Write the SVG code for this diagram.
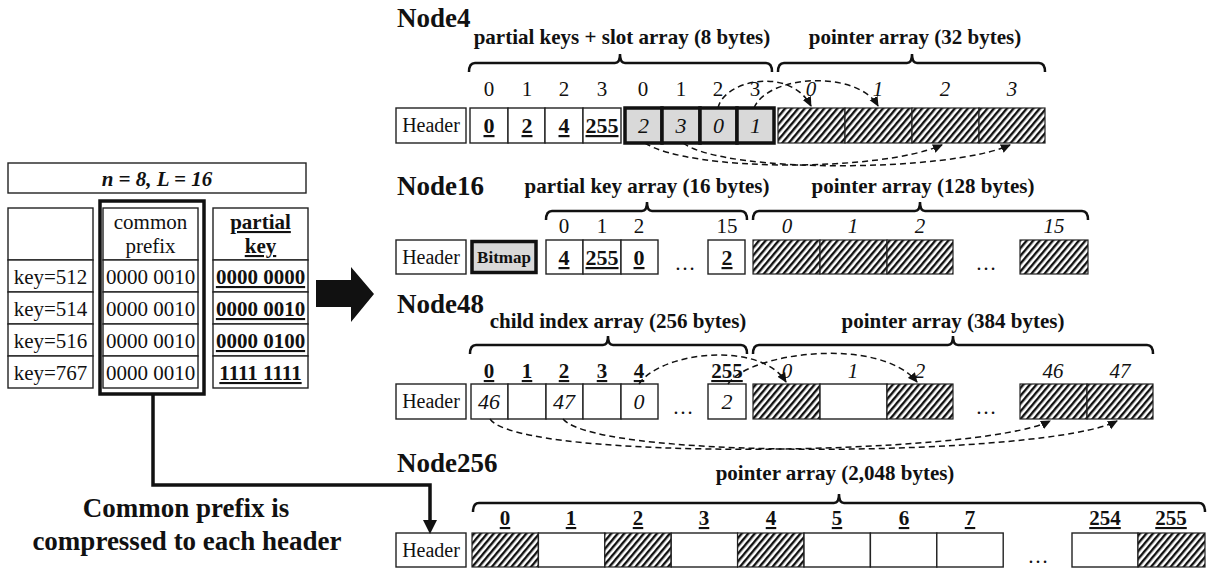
<svg xmlns="http://www.w3.org/2000/svg" width="1207" height="569" viewBox="0 0 1207 569">
  <defs>
    <pattern id="hatch" patternUnits="userSpaceOnUse" width="5" height="10" patternTransform="rotate(40)">
      <rect width="5" height="10" fill="#fff"/>
      <rect width="2.4" height="10" fill="#111"/>
    </pattern>
    <marker id="ah" viewBox="0 0 10 10" refX="9" refY="5" markerWidth="10" markerHeight="10" markerUnits="userSpaceOnUse" orient="auto">
      <path d="M0,0.5 L10,5 L0,9.5 z" fill="#111"/>
    </marker>
    <style>
      text { font-family: "Liberation Serif", "Times New Roman", serif; fill: #111; }
      .title { font-size: 27px; font-weight: bold; }
      .lab { font-size: 21px; font-weight: bold; text-anchor: middle; }
      .idx { font-size: 21px; text-anchor: middle; }
      .it { font-style: italic; }
      .val { font-size: 22px; font-weight: bold; text-decoration: underline; text-anchor: middle; }
      .ival { font-size: 22px; font-style: italic; text-anchor: middle; }
      .hdr { font-size: 20px; text-anchor: middle; }
      .tb { font-size: 21px; text-anchor: middle; }
      .b { font-weight: bold; }
      .u { text-decoration: underline; }
      .big { font-size: 27px; font-weight: bold; text-anchor: middle; }
      .box { fill: #fff; stroke: #222; stroke-width: 1.4; }
      .hat { fill: url(#hatch); stroke: #222; stroke-width: 1.2; }
      .slot { fill: #d9d9d9; stroke: #111; stroke-width: 3.5; }
      .brace { fill: none; stroke: #111; stroke-width: 2.5; }
      .dash { fill: none; stroke: #111; stroke-width: 1.5; stroke-dasharray: 6 4; }
      .thick { fill: none; stroke: #111; stroke-width: 3.5; }
    </style>
  </defs>
  <rect width="1207" height="569" fill="#fff"/>

  <!-- key table on the left -->
  <g id="key-table">
    <rect class="box" x="8" y="163" width="298" height="30"/>
    <text class="tb b it" x="157" y="186">n = 8, L = 16</text>
    <!-- column 1: keys -->
    <rect class="box" x="8" y="208" width="85" height="52"/>
    <rect class="box" x="8" y="260" width="85" height="32"/>
    <rect class="box" x="8" y="292" width="85" height="32"/>
    <rect class="box" x="8" y="324" width="85" height="32"/>
    <rect class="box" x="8" y="356" width="85" height="32"/>
    <text class="tb" x="50.5" y="284">key=512</text>
    <text class="tb" x="50.5" y="316">key=514</text>
    <text class="tb" x="50.5" y="348">key=516</text>
    <text class="tb" x="50.5" y="380">key=767</text>
    <!-- column 2: common prefix -->
    <rect class="box" x="103" y="208" width="95" height="52"/>
    <rect class="box" x="103" y="260" width="95" height="32"/>
    <rect class="box" x="103" y="292" width="95" height="32"/>
    <rect class="box" x="103" y="324" width="95" height="32"/>
    <rect class="box" x="103" y="356" width="95" height="32"/>
    <rect class="thick" x="100" y="201" width="104" height="193"/>
    <text class="tb" x="150.5" y="229">common</text>
    <text class="tb" x="150.5" y="253">prefix</text>
    <text class="tb" x="150.5" y="284">0000 0010</text>
    <text class="tb" x="150.5" y="316">0000 0010</text>
    <text class="tb" x="150.5" y="348">0000 0010</text>
    <text class="tb" x="150.5" y="380">0000 0010</text>
    <!-- column 3: partial key -->
    <rect class="box" x="213" y="208" width="95" height="52"/>
    <rect class="box" x="213" y="260" width="95" height="32"/>
    <rect class="box" x="213" y="292" width="95" height="32"/>
    <rect class="box" x="213" y="324" width="95" height="32"/>
    <rect class="box" x="213" y="356" width="95" height="32"/>
    <text class="tb b u" x="260.5" y="229">partial</text>
    <text class="tb b u" x="260.5" y="253">key</text>
    <text class="tb b u" x="260.5" y="284">0000 0000</text>
    <text class="tb b u" x="260.5" y="316">0000 0010</text>
    <text class="tb b u" x="260.5" y="348">0000 0100</text>
    <text class="tb b u" x="260.5" y="380">1111 1111</text>
  </g>

  <g id="big-arrow">
    <polygon points="316,280 351,280 351,267 374,294 351,322 351,307 316,307" fill="#111"/>
  </g>

  <g id="caption">
    <text class="big" x="186" y="517">Common prefix is</text>
    <text class="big" x="187" y="550">compressed to each header</text>
  </g>

  <!-- Node4 -->
  <g id="node4">
    <text class="title" x="397" y="27">Node4</text>
    <text class="lab" x="622" y="44">partial keys + slot array (8 bytes)</text>
    <text class="lab" x="915" y="44">pointer array (32 bytes)</text>
    <path class="brace" d="M469 72 Q469 63 475 63 H615 Q620 63 620 54 Q620 63 625 63 H766 Q772 63 772 72"/>
    <path class="brace" d="M778 72 Q778 63 784 63 H907 Q912 63 912 54 Q912 63 917 63 H1039 Q1045 63 1045 72"/>
    <text class="idx" x="489" y="96">0</text>
    <text class="idx" x="527" y="96">1</text>
    <text class="idx" x="564" y="96">2</text>
    <text class="idx" x="602" y="96">3</text>
    <text class="idx" x="643" y="96">0</text>
    <text class="idx" x="681" y="96">1</text>
    <text class="idx" x="718" y="96">2</text>
    <text class="idx" x="755" y="96">3</text>
    <text class="idx it" x="811" y="96">0</text>
    <text class="idx it" x="878" y="96">1</text>
    <text class="idx it" x="945" y="96">2</text>
    <text class="idx it" x="1012" y="96">3</text>
    <rect class="box" x="396" y="108" width="70" height="35"/>
    <text class="hdr" x="431" y="132">Header</text>
    <rect class="box" x="470" y="108" width="38" height="35"/>
    <rect class="box" x="508" y="108" width="37" height="35"/>
    <rect class="box" x="545" y="108" width="38" height="35"/>
    <rect class="box" x="583" y="108" width="38" height="35"/>
    <text class="val" x="489" y="133">0</text>
    <text class="val" x="527" y="133">2</text>
    <text class="val" x="564" y="133">4</text>
    <text class="val" x="602" y="133">255</text>
    <rect class="slot" x="625" y="108" width="37" height="35"/>
    <rect class="slot" x="662" y="108" width="38" height="35"/>
    <rect class="slot" x="700" y="108" width="37" height="35"/>
    <rect class="slot" x="737" y="108" width="37" height="35"/>
    <text class="ival" x="643.5" y="133">2</text>
    <text class="ival" x="681" y="133">3</text>
    <text class="ival" x="718.5" y="133">0</text>
    <text class="ival" x="755.5" y="133">1</text>
    <rect class="hat" x="778" y="108" width="67" height="35"/>
    <rect class="hat" x="845" y="108" width="67" height="35"/>
    <rect class="hat" x="912" y="108" width="67" height="35"/>
    <rect class="hat" x="979" y="108" width="66" height="35"/>
  </g>

  <!-- Node16 -->
  <g id="node16">
    <text class="title" x="397" y="195">Node16</text>
    <text class="lab" x="647" y="193">partial key array (16 bytes)</text>
    <text class="lab" x="923" y="193">pointer array (128 bytes)</text>
    <path class="brace" d="M546 220 Q546 211 552 211 H642 Q647 211 647 202 Q647 211 652 211 H741 Q747 211 747 220"/>
    <path class="brace" d="M753 220 Q753 211 759 211 H915 Q920 211 920 202 Q920 211 925 211 H1082 Q1088 211 1088 220"/>
    <text class="idx" x="564" y="233">0</text>
    <text class="idx" x="602" y="233">1</text>
    <text class="idx" x="639" y="233">2</text>
    <text class="idx" x="727" y="233">15</text>
    <text class="idx it" x="787" y="233">0</text>
    <text class="idx it" x="853" y="233">1</text>
    <text class="idx it" x="920" y="233">2</text>
    <text class="idx it" x="1054" y="233">15</text>
    <rect class="box" x="396" y="240" width="70" height="34"/>
    <text class="hdr" x="431" y="264">Header</text>
    <rect class="slot" x="472" y="241.5" width="64" height="31"/>
    <text x="504" y="263" text-anchor="middle" font-size="17" font-weight="bold">Bitmap</text>
    <rect class="box" x="546" y="240" width="37" height="34"/>
    <rect class="box" x="583" y="240" width="38" height="34"/>
    <rect class="box" x="621" y="240" width="37" height="34"/>
    <rect class="box" x="708" y="240" width="37" height="34"/>
    <text class="val" x="564" y="265">4</text>
    <text class="val" x="602" y="265">255</text>
    <text class="val" x="639" y="265">0</text>
    <text class="val" x="727" y="265">2</text>
    <text class="idx" x="685" y="270">…</text>
    <rect class="hat" x="753" y="240" width="67" height="34"/>
    <rect class="hat" x="820" y="240" width="67" height="34"/>
    <rect class="hat" x="887" y="240" width="66" height="34"/>
    <text class="idx" x="986" y="270">…</text>
    <rect class="hat" x="1020" y="240" width="68" height="34"/>
  </g>

  <!-- Node48 -->
  <g id="node48">
    <text class="title" x="397" y="313">Node48</text>
    <text class="lab" x="618" y="328">child index array (256 bytes)</text>
    <text class="lab" x="953" y="328">pointer array (384 bytes)</text>
    <path class="brace" d="M470 354 Q470 345 476 345 H603 Q608 345 608 336 Q608 345 613 345 H741 Q747 345 747 354"/>
    <path class="brace" d="M753 354 Q753 345 759 345 H948 Q953 345 953 336 Q953 345 958 345 H1147 Q1153 345 1153 354"/>
    <text class="idx b u" x="489" y="378">0</text>
    <text class="idx b u" x="527" y="378">1</text>
    <text class="idx b u" x="564" y="378">2</text>
    <text class="idx b u" x="602" y="378">3</text>
    <text class="idx b u" x="639" y="378">4</text>
    <text class="idx b u" x="727" y="378">255</text>
    <text class="idx it" x="787" y="378">0</text>
    <text class="idx it" x="853" y="378">1</text>
    <text class="idx it" x="920" y="378">2</text>
    <text class="idx it" x="1053" y="378">46</text>
    <text class="idx it" x="1120" y="378">47</text>
    <rect class="box" x="396" y="384" width="70" height="35"/>
    <text class="hdr" x="431" y="408">Header</text>
    <rect class="box" x="471" y="384" width="37" height="35"/>
    <rect class="box" x="508" y="384" width="38" height="35"/>
    <rect class="box" x="546" y="384" width="37" height="35"/>
    <rect class="box" x="583" y="384" width="38" height="35"/>
    <rect class="box" x="621" y="384" width="37" height="35"/>
    <rect class="box" x="708" y="384" width="38" height="35"/>
    <text class="ival" x="489" y="409">46</text>
    <text class="ival" x="564" y="409">47</text>
    <text class="ival" x="639" y="409">0</text>
    <text class="ival" x="727" y="409">2</text>
    <text class="idx" x="683" y="414">…</text>
    <rect class="hat" x="753" y="384" width="67" height="35"/>
    <rect class="box" x="820" y="384" width="67" height="35"/>
    <rect class="hat" x="887" y="384" width="66" height="35"/>
    <text class="idx" x="986" y="414">…</text>
    <rect class="hat" x="1020" y="384" width="67" height="35"/>
    <rect class="hat" x="1087" y="384" width="66" height="35"/>
  </g>

  <!-- Node256 -->
  <g id="node256">
    <text class="title" x="397" y="472">Node256</text>
    <text class="lab" x="835" y="480">pointer array (2,048 bytes)</text>
    <path class="brace" d="M473 512 Q473 503 479 503 H834 Q839 503 839 494 Q839 503 844 503 H1199 Q1205 503 1205 512"/>
    <text class="idx b u" x="505" y="525">0</text>
    <text class="idx b u" x="571" y="525">1</text>
    <text class="idx b u" x="638" y="525">2</text>
    <text class="idx b u" x="704" y="525">3</text>
    <text class="idx b u" x="771" y="525">4</text>
    <text class="idx b u" x="837" y="525">5</text>
    <text class="idx b u" x="904" y="525">6</text>
    <text class="idx b u" x="970" y="525">7</text>
    <text class="idx b u" x="1105" y="525">254</text>
    <text class="idx b u" x="1171" y="525">255</text>
    <rect class="box" x="396" y="533" width="70" height="34"/>
    <text class="hdr" x="431" y="557">Header</text>
    <rect class="hat" x="472" y="533" width="66.4" height="34"/>
    <rect class="box" x="538.4" y="533" width="66.4" height="34"/>
    <rect class="hat" x="604.8" y="533" width="66.4" height="34"/>
    <rect class="box" x="671.2" y="533" width="66.4" height="34"/>
    <rect class="hat" x="737.6" y="533" width="66.4" height="34"/>
    <rect class="box" x="804" y="533" width="66.4" height="34"/>
    <rect class="box" x="870.4" y="533" width="66.4" height="34"/>
    <rect class="box" x="936.8" y="533" width="66.4" height="34"/>
    <text class="idx" x="1038" y="563">…</text>
    <rect class="box" x="1072" y="533" width="66" height="34"/>
    <rect class="hat" x="1138" y="533" width="67" height="34"/>
  </g>

  <!-- connectors -->
  <g id="connectors">
    <!-- Node4: slot entries to pointers -->
    <path class="dash" d="M718 108 C724 80 790 66 811 106" marker-end="url(#ah)"/>
    <path class="dash" d="M754 108 C768 74 858 70 878 106" marker-end="url(#ah)"/>
    <path class="dash" d="M645 143 C690 172 880 172 942 145" marker-end="url(#ah)"/>
    <path class="dash" d="M683 143 C725 174 950 172 1010 145" marker-end="url(#ah)"/>
    <!-- Node48: child index to pointers -->
    <path class="dash" d="M639 384 C660 352 760 340 786 382" marker-end="url(#ah)"/>
    <path class="dash" d="M728 384 C750 352 880 336 917 382" marker-end="url(#ah)"/>
    <path class="dash" d="M490 419 C520 462 980 456 1050 421" marker-end="url(#ah)"/>
    <path class="dash" d="M563 419 C600 462 1050 456 1117 421" marker-end="url(#ah)"/>
    <!-- common prefix to Node256 header -->
    <polyline class="thick" points="153,395 153,485 430,485 430,522"/>
    <polygon points="423,520 437,520 430,534" fill="#111"/>
  </g>
</svg>
